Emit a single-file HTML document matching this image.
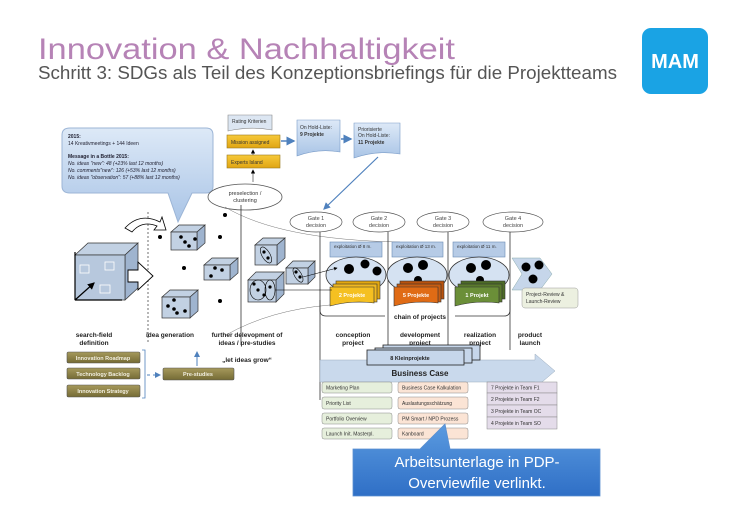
<!DOCTYPE html>
<html><head><meta charset="utf-8"><style>
html,body{margin:0;padding:0;background:#fff;}
svg{display:block;font-family:"Liberation Sans",sans-serif;}
</style></head><body>
<svg width="732" height="527" viewBox="0 0 732 527" xmlns="http://www.w3.org/2000/svg">
<defs>
<linearGradient id="bl" x1="0" y1="0" x2="0" y2="1"><stop offset="0" stop-color="#dde9f7"/><stop offset="1" stop-color="#a9c4e6"/></linearGradient>
<linearGradient id="blue" x1="0" y1="0" x2="0" y2="1"><stop offset="0" stop-color="#5b9be0"/><stop offset="1" stop-color="#2f6fc6"/></linearGradient>
<linearGradient id="ol" x1="0" y1="0" x2="0" y2="1"><stop offset="0" stop-color="#a69a5c"/><stop offset="1" stop-color="#756b35"/></linearGradient>
<linearGradient id="ye" x1="0" y1="0" x2="0" y2="1"><stop offset="0" stop-color="#f7c93a"/><stop offset="1" stop-color="#e0a512"/></linearGradient>
<marker id="ar" markerWidth="6" markerHeight="6" refX="5" refY="3" orient="auto"><path d="M0,0 L6,3 L0,6z" fill="#4f81bd"/></marker>
<marker id="ak" markerWidth="6" markerHeight="6" refX="5" refY="3" orient="auto"><path d="M0,0 L6,3 L0,6z" fill="#000"/></marker>
</defs>

<!-- header -->
<text x="38" y="59" font-size="30" fill="#b683b6" textLength="417" lengthAdjust="spacingAndGlyphs">Innovation &amp; Nachhaltigkeit</text>
<text x="38" y="79" font-size="18" fill="#555" textLength="579" lengthAdjust="spacingAndGlyphs">Schritt 3: SDGs als Teil des Konzeptionsbriefings für die Projektteams</text>
<rect x="642" y="28" width="66" height="66" rx="9" fill="#1aa3e4"/>
<text x="675" y="68" font-size="20" font-weight="bold" fill="#fff" text-anchor="middle">MAM</text>

<!-- callout bubble -->
<path d="M70,128 H206 Q213,128 213,135 V186 Q213,193 206,193 H192 L178,222 L168,193 H70 Q62,193 62,186 V135 Q62,128 70,128z" fill="url(#bl)" stroke="#9cb5d6" stroke-width="1"/>
<g font-size="5" fill="#223">
<text x="68" y="138" font-weight="bold">2015:</text>
<text x="68" y="145">14 Kreativmeetings + 144 Ideen</text>
<text x="68" y="158" font-weight="bold">Message in a Bottle 2015:</text>
<text x="68" y="165" font-style="italic">No. ideas "new": 48 (+23% last 12 months)</text>
<text x="68" y="172" font-style="italic">No. comments"new": 126 (+53% last 12 months)</text>
<text x="68" y="179" font-style="italic">No. ideas "observation": 57 (+88% last 12 months)</text>
</g>

<!-- top middle boxes -->
<path d="M228,115 H272 V130 Q250,126 228,131z" fill="#dce6f2" stroke="#888" stroke-width="0.6"/>
<text x="232" y="123" font-size="5" fill="#333">Rating Kriterien</text>
<rect x="227" y="135" width="53" height="13" fill="url(#ye)" stroke="#9a7a20" stroke-width="0.6"/>
<text x="231" y="144" font-size="5" fill="#333">Mission assigned</text>
<rect x="227" y="155" width="53" height="13" fill="url(#ye)" stroke="#9a7a20" stroke-width="0.6"/>
<text x="231" y="164" font-size="5" fill="#333">Experts Island</text>
<line x1="253" y1="182" x2="253" y2="170" stroke="#444" stroke-width="0.7" marker-end="url(#ak)"/>
<line x1="253" y1="155" x2="253" y2="150" stroke="#444" stroke-width="0.7" marker-end="url(#ak)"/>
<ellipse cx="245" cy="197" rx="37" ry="13" fill="#fff" stroke="#555" stroke-width="0.8"/>
<text x="245" y="195" font-size="5.5" fill="#333" text-anchor="middle">preselection /</text>
<text x="245" y="202" font-size="5.5" fill="#333" text-anchor="middle">clustering</text>
<line x1="281" y1="141" x2="294" y2="141" stroke="#4f81bd" stroke-width="1.5" marker-end="url(#ar)"/>
<path d="M297,120 H340 V152 Q318,148 297,156z" fill="url(#bl)" stroke="#7a9cc8" stroke-width="0.6"/>
<text x="300" y="129" font-size="5" fill="#333">On Hold-Liste:</text>
<text x="300" y="136" font-size="5" font-weight="bold" fill="#333">9 Projekte</text>
<line x1="341" y1="139" x2="351" y2="139" stroke="#4f81bd" stroke-width="1.5" marker-end="url(#ar)"/>
<path d="M354,123 H400 V154 Q377,150 354,158z" fill="url(#bl)" stroke="#7a9cc8" stroke-width="0.6"/>
<text x="358" y="131" font-size="5" fill="#333">Priorisierte</text>
<text x="358" y="137" font-size="5" fill="#333">On Hold-Liste:</text>
<text x="358" y="144" font-size="5" font-weight="bold" fill="#333">11 Projekte</text>
<line x1="378" y1="157" x2="324" y2="209" stroke="#4f81bd" stroke-width="1.2" marker-end="url(#ar)"/>

<!-- thin curves -->
<path d="M225,207 Q280,240 400,242" fill="none" stroke="#777" stroke-width="0.5"/>
<path d="M226,335 Q270,310 330,305" fill="none" stroke="#777" stroke-width="0.5"/>

<!-- gates -->
<g font-size="5.5" fill="#444" text-anchor="middle">
<ellipse cx="316" cy="222" rx="26" ry="10" fill="#fff" stroke="#555" stroke-width="0.7"/>
<text x="316" y="220">Gate 1</text><text x="316" y="227">decision</text>
<ellipse cx="379" cy="222" rx="26" ry="10" fill="#fff" stroke="#555" stroke-width="0.7"/>
<text x="379" y="220">Gate 2</text><text x="379" y="227">decision</text>
<ellipse cx="443" cy="222" rx="26" ry="10" fill="#fff" stroke="#555" stroke-width="0.7"/>
<text x="443" y="220">Gate 3</text><text x="443" y="227">decision</text>
<ellipse cx="513" cy="222" rx="30" ry="10" fill="#fff" stroke="#555" stroke-width="0.7"/>
<text x="513" y="220">Gate 4</text><text x="513" y="227">decision</text>
</g>

<!-- vertical lines -->
<line x1="148" y1="212" x2="148" y2="342" stroke="#333" stroke-width="0.7" stroke-dasharray="2,2"/>
<line x1="241" y1="205" x2="241" y2="345" stroke="#333" stroke-width="0.8"/>
<line x1="320" y1="232" x2="320" y2="400" stroke="#333" stroke-width="0.8"/>
<line x1="388" y1="232" x2="388" y2="350" stroke="#333" stroke-width="0.8"/>
<line x1="448" y1="232" x2="448" y2="350" stroke="#333" stroke-width="0.8"/>
<line x1="510" y1="232" x2="510" y2="350" stroke="#333" stroke-width="0.8"/>

<!-- chain container -->
<path d="M320,300 V310 Q320,316 326,316 H385 M455,316 H504 Q510,316 510,310 V300" fill="none" stroke="#333" stroke-width="0.8"/>
<text x="420" y="319" font-size="6.5" font-weight="bold" fill="#222" text-anchor="middle">chain of projects</text>

<!-- exploitation boxes -->
<g font-size="4.5" fill="#333">
<rect x="330" y="242" width="52" height="15" fill="#b6cbe6" stroke="#6a8ab5" stroke-width="0.6"/><text x="334" y="248">exploitation Ø 8 m.</text>
<rect x="392" y="242" width="51" height="15" fill="#b6cbe6" stroke="#6a8ab5" stroke-width="0.6"/><text x="396" y="248">exploitation Ø 13 m.</text>
<rect x="453" y="242" width="52" height="15" fill="#b6cbe6" stroke="#6a8ab5" stroke-width="0.6"/><text x="457" y="248">exploitation Ø 11 m.</text>
</g>
<g fill="#d5e2f2" stroke="#333" stroke-width="0.8">
<ellipse cx="356" cy="275" rx="30" ry="18"/>
<ellipse cx="417" cy="275" rx="30" ry="18"/>
<ellipse cx="479" cy="275" rx="30" ry="18"/>
</g>
<g fill="#000">
<circle cx="349" cy="269" r="5"/><circle cx="365" cy="264" r="4.5"/><circle cx="377" cy="271" r="4.5"/>
<circle cx="408" cy="268" r="5"/><circle cx="423" cy="265" r="5"/><circle cx="418" cy="280" r="4"/>
<circle cx="471" cy="268" r="5"/><circle cx="486" cy="265" r="5"/><circle cx="480" cy="280" r="4"/>
</g>
<!-- project stacks -->
<g stroke="#333" stroke-width="0.6">
<rect x="336" y="281" width="44" height="18" fill="#e3a80f"/><rect x="333" y="284" width="44" height="18" fill="#f0b820"/><path d="M330,287 H374 V303 Q352,300 330,306z" fill="#f5c021"/>
<rect x="400" y="281" width="44" height="18" fill="#b8520d"/><rect x="397" y="284" width="44" height="18" fill="#c85d12"/><path d="M394,287 H438 V303 Q416,300 394,306z" fill="#e06b15"/>
<rect x="461" y="281" width="44" height="18" fill="#4d6b26"/><rect x="458" y="284" width="44" height="18" fill="#5a7a2c"/><path d="M455,287 H499 V303 Q477,300 455,306z" fill="#6b8f38"/>
</g>
<g font-size="5.5" font-weight="bold" fill="#fff" text-anchor="middle">
<text x="352" y="297">2 Projekte</text><text x="416" y="297">5 Projekte</text><text x="477" y="297">1 Projekt</text>
</g>
<!-- launch chevron -->
<path d="M512,258 H540 L552,274 L540,290 H512 L522,274z" fill="#c6d6ea" stroke="#8aa" stroke-width="0.5"/>
<circle cx="526" cy="267" r="4.5"/><circle cx="539" cy="265" r="4.5"/><circle cx="533" cy="279" r="4.5"/>
<rect x="522" y="288" width="56" height="20" rx="3" fill="#ecf0e0" stroke="#999" stroke-width="0.5"/>
<text x="526" y="296" font-size="5" fill="#333">Project-Review &amp;</text>
<text x="526" y="303" font-size="5" fill="#333">Launch-Review</text>

<!-- cubes -->
<g stroke="#333" stroke-width="0.7" fill="#c2d1e3">
<polygon points="75,255 88,243 138,243 125,255"/><polygon points="125,255 138,243 138,288 125,300" fill="#9fb4cf"/><rect x="75" y="255" width="50" height="45" fill="#b7c8dd"/>
<polygon points="171,232 179,225 205,225 197,232"/><polygon points="197,232 205,225 205,243 197,250" fill="#9fb4cf"/><rect x="171" y="232" width="26" height="18"/>
<polygon points="204,265 212,258 238,258 230,265"/><polygon points="230,265 238,258 238,273 230,280" fill="#9fb4cf"/><rect x="204" y="265" width="26" height="15"/>
<polygon points="162,297 170,290 198,290 190,297"/><polygon points="190,297 198,290 198,311 190,318" fill="#9fb4cf"/><rect x="162" y="297" width="28" height="21"/>
<polygon points="255,245 263,238 285,238 277,245"/><polygon points="277,245 285,238 285,258 277,265" fill="#9fb4cf"/><rect x="255" y="245" width="22" height="20"/>
<polygon points="286,268 293,261 315,261 308,268"/><polygon points="308,268 315,261 315,277 308,284" fill="#9fb4cf"/><rect x="286" y="268" width="22" height="16"/>
<polygon points="248,280 256,272 284,272 276,280"/><polygon points="276,280 284,272 284,294 276,302" fill="#9fb4cf"/><rect x="248" y="280" width="28" height="22"/>
</g>
<g fill="none" stroke="#fff" stroke-width="0.8"><rect x="80" y="265" width="9" height="8"/><rect x="105" y="262" width="9" height="8"/><rect x="100" y="285" width="10" height="8"/></g>
<path d="M75,300 V252 M75,300 H122 M75,300 L94,283" stroke="#000" stroke-width="1.2" fill="none" marker-end="url(#ak)"/>
<path d="M128,270 H138 V262 L153,276 L138,290 V282 H128z" fill="#fff" stroke="#000" stroke-width="0.9"/>
<path d="M125,228 Q140,212 160,222 L162,217 L166,230 L154,230 L157,226 Q142,220 132,232z" fill="#fff" stroke="#000" stroke-width="0.8"/>
<g fill="#000">
<circle cx="225" cy="215" r="2"/><circle cx="160" cy="237" r="2"/><circle cx="220" cy="237" r="2"/><circle cx="184" cy="268" r="2"/><circle cx="220" cy="301" r="2"/>
<circle cx="181" cy="237" r="1.8"/><circle cx="185" cy="242" r="1.8"/><circle cx="189" cy="246" r="1.8"/><circle cx="195" cy="239" r="1.8"/>
<circle cx="215" cy="268" r="1.8"/><circle cx="222" cy="270" r="1.8"/><circle cx="211" cy="276" r="1.8"/>
<circle cx="168" cy="306" r="1.8"/><circle cx="174" cy="300" r="1.8"/><circle cx="174" cy="309" r="1.8"/><circle cx="177" cy="313" r="1.8"/><circle cx="185" cy="311" r="1.8"/>
<circle cx="264" cy="252" r="1.6"/><circle cx="268" cy="258" r="1.6"/><circle cx="296" cy="272" r="1.6"/><circle cx="300" cy="277" r="1.6"/>
<circle cx="254" cy="284" r="1.6"/><circle cx="258" cy="290" r="1.6"/><circle cx="264" cy="295" r="1.6"/><circle cx="270" cy="287" r="1.6"/>
</g>
<g fill="none" stroke="#000" stroke-width="0.6">
<ellipse cx="266" cy="255" rx="4" ry="9" transform="rotate(-30 266 255)"/><ellipse cx="298" cy="275" rx="3.5" ry="8" transform="rotate(-30 298 275)"/>
<ellipse cx="258" cy="290" rx="8" ry="10"/><ellipse cx="270" cy="290" rx="5" ry="10"/>
</g>
<line x1="303" y1="277" x2="337" y2="268" stroke="#000" stroke-width="0.6" marker-end="url(#ak)"/>
<line x1="275" y1="290" x2="332" y2="290" stroke="#000" stroke-width="0.6"/>

<!-- phase labels -->
<g font-size="6.5" font-weight="bold" fill="#222" text-anchor="middle">
<text x="94" y="337">search-field</text><text x="94" y="345">definition</text>
<text x="170" y="337">idea generation</text>
<text x="247" y="337">further delevopment of</text><text x="247" y="345">ideas / pre-studies</text>
<text x="353" y="337">conception</text><text x="353" y="345">project</text>
<text x="420" y="337">development</text><text x="420" y="345">project</text>
<text x="480" y="337">realization</text><text x="480" y="345">project</text>
<text x="530" y="337">product</text><text x="530" y="345">launch</text>
<text x="247" y="362">„let ideas grow“</text>
</g>

<!-- business case -->
<path d="M320,360 H535 V354 L555,371 L535,388 V382 H320z" fill="#c9d9ec" stroke="#9ab" stroke-width="0.5"/>
<text x="420" y="376" font-size="8" font-weight="bold" fill="#222" text-anchor="middle">Business Case</text>
<g stroke="#222" stroke-width="0.8">
<rect x="383" y="345" width="97" height="15" fill="#c6d6ea"/>
<rect x="375" y="348" width="97" height="15" fill="#c6d6ea"/>
<rect x="367" y="350" width="97" height="15" fill="#c6d6ea"/>
</g>
<text x="410" y="360" font-size="5.5" font-weight="bold" fill="#222" text-anchor="middle">8 Kleinprojekte</text>

<g font-size="5" fill="#333">
<g fill="#e6efdc" stroke="#888" stroke-width="0.5">
<rect x="322" y="382" width="70" height="11" rx="2"/><rect x="322" y="397" width="70" height="12" rx="2"/><rect x="322" y="413" width="70" height="11" rx="2"/><rect x="322" y="428" width="70" height="11" rx="2"/>
</g>
<text x="326" y="389.5">Marketing Plan</text><text x="326" y="405">Priority List</text><text x="326" y="420.5">Portfolio Overview</text><text x="326" y="435.5">Launch Init. Masterpl.</text>
<g fill="#fbe4d5" stroke="#888" stroke-width="0.5">
<rect x="398" y="382" width="70" height="11" rx="2"/><rect x="398" y="397" width="70" height="12" rx="2"/><rect x="398" y="413" width="70" height="11" rx="2"/><rect x="398" y="428" width="70" height="11" rx="2"/>
</g>
<text x="402" y="389.5">Business Case Kalkulation</text><text x="402" y="405">Auslastungsschätzung</text><text x="402" y="420.5">PM Smart / NPD Prozess</text><text x="402" y="435.5">Kanboard</text>
<g fill="#e4dcea" stroke="#888" stroke-width="0.5">
<rect x="487" y="382" width="70" height="11"/><rect x="487" y="393" width="70" height="12"/><rect x="487" y="405" width="70" height="12"/><rect x="487" y="417" width="70" height="12"/>
</g>
<text x="491" y="389.5">7 Projekte in Team F1</text><text x="491" y="401">2 Projekte in Team F2</text><text x="491" y="413">3 Projekte in Team OC</text><text x="491" y="425">4 Projekte in Team SO</text>
</g>

<!-- blue callout -->
<path d="M353,449 H420 L445,424 L450,449 H600 V496 H353z" fill="url(#blue)" stroke="#5b8fd0" stroke-width="0.8"/>
<text x="477" y="467" font-size="15" fill="#fff" text-anchor="middle">Arbeitsunterlage in PDP-</text>
<text x="477" y="488" font-size="15" fill="#fff" text-anchor="middle">Overviewfile verlinkt.</text>

<!-- left olive boxes -->
<g stroke="#555" stroke-width="0.6" fill="url(#ol)">
<rect x="67" y="352" width="73" height="11" rx="1.5"/><rect x="67" y="368" width="73" height="11" rx="1.5"/><rect x="67" y="385" width="73" height="12" rx="1.5"/>
<rect x="163" y="368" width="71" height="12" rx="1.5"/>
</g>
<g font-size="5.5" font-weight="bold" fill="#f2efe0" text-anchor="middle">
<text x="103" y="360">Innovation Roadmap</text><text x="103" y="376">Technology Backlog</text><text x="103" y="393">Innovation Strategy</text><text x="198" y="376">Pre-studies</text>
</g>
<path d="M142,350 H145 V398 H142" fill="none" stroke="#4f81bd" stroke-width="0.8"/>
<line x1="147" y1="375" x2="150" y2="375" stroke="#4f81bd" stroke-width="1"/>
<line x1="153" y1="375" x2="160" y2="375" stroke="#4f81bd" stroke-width="1" marker-end="url(#ar)"/>
<line x1="197" y1="366" x2="197" y2="352" stroke="#4f81bd" stroke-width="1" marker-end="url(#ar)"/>
</svg>
</body></html>
